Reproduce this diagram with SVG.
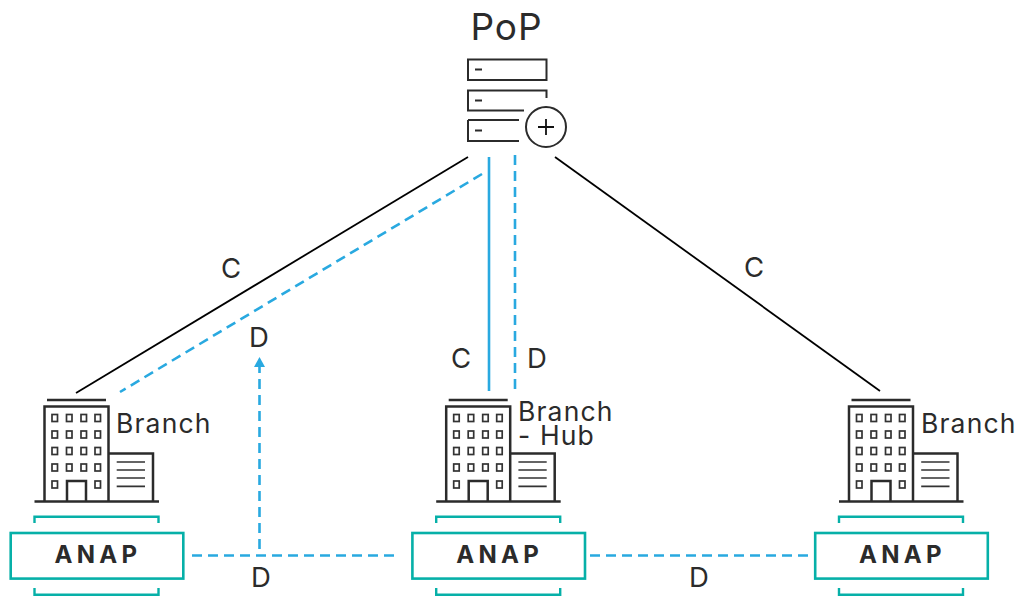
<svg xmlns="http://www.w3.org/2000/svg" width="1019" height="596" viewBox="0 0 1019 596">
<style>
text{font-family:"Inter","Liberation Sans",sans-serif;fill:#2b2b2b}
.lb{font-size:26.500px;letter-spacing:1.150px}
.sm{font-size:27.500px}
.an{font-size:24px;font-weight:700;letter-spacing:4.300px;text-anchor:middle}
.k{fill:none;stroke:#2b2b2b;stroke-width:2}
.k3{fill:none;stroke:#2b2b2b;stroke-width:2.5}
.w{fill:none;stroke:#333;stroke-width:1.7}
.t{fill:#fff;stroke:#06b0a8;stroke-width:2.6}
.tb{fill:none;stroke:#06b0a8;stroke-width:2.4}
.c{fill:none;stroke:#000;stroke-width:1.8}
.bs{fill:none;stroke:#29a9e0;stroke-width:2.6}
.bd{fill:none;stroke:#29a9e0;stroke-width:2.6;stroke-dasharray:10 6}
</style>
<defs>
<g id="bldg">
<path class="k3" d="M47 400H106M44.500 502V406.500H108.500V502M108.500 453.500H153V502M34.500 501.500H159M67 501V481H86V501"/>
<path class="w" d="M116.700 462H145M116.700 470H145M116.700 478H145M116.700 486.300H145"/>
<g class="w">
<rect x="52" y="414.500" width="5.500" height="7"/><rect x="66.500" y="414.500" width="5.500" height="7"/><rect x="81" y="414.500" width="5.500" height="7"/><rect x="95" y="414.500" width="5.500" height="7"/>
<rect x="52" y="431" width="5.500" height="7"/><rect x="66.500" y="431" width="5.500" height="7"/><rect x="81" y="431" width="5.500" height="7"/><rect x="95" y="431" width="5.500" height="7"/>
<rect x="52" y="447.500" width="5.500" height="7"/><rect x="66.500" y="447.500" width="5.500" height="7"/><rect x="81" y="447.500" width="5.500" height="7"/><rect x="95" y="447.500" width="5.500" height="7"/>
<rect x="52" y="464" width="5.500" height="7"/><rect x="66.500" y="464" width="5.500" height="7"/><rect x="81" y="464" width="5.500" height="7"/><rect x="95" y="464" width="5.500" height="7"/>
<rect x="52" y="481" width="5.500" height="7"/><rect x="95" y="481" width="5.500" height="7"/>
</g>
</g>
<g id="anap">
<path class="tb" d="M34.500 523V516.700H158.500V523M34.500 588V594.700H158.500V588"/>
<rect class="t" x="10.700" y="533" width="172.600" height="45.600"/>
<text class="an" x="98" y="562.500">ANAP</text>
</g>
</defs>
<g id="connectors">
<path class="c" d="M468 157L76 393"/>
<path class="bd" d="M482 174L120 392"/>
<path class="bs" d="M489 157V391"/>
<path class="bd" d="M515 155V391"/>
<path class="c" d="M555 157L880 391"/>
<path class="bd" d="M192 555.500H400"/>
<path class="bd" d="M259.500 549V366"/>
<path d="M254 367L259.500 357L265 367Z" fill="#29a9e0"/>
<path class="bd" d="M590 555.500H808"/>
</g>
<g id="pop">
<text x="506.500" y="39.500" font-size="37" letter-spacing="1" text-anchor="middle">PoP</text>
<path class="k" d="M468 59.500H546.500V80H468ZM546.500 98V90.500H468V110.500H524M468 120H519M519 141H468V120"/>
<path class="k" d="M475 69.500H482M475 100.500H482M475 130.500H482"/>
<circle class="k" cx="546" cy="127" r="20"/>
<path d="M546 119V135M538 127H554" stroke="#111" stroke-width="1.800" fill="none"/>
</g>
<g id="branch-left"><use href="#bldg"/><use href="#anap"/><text class="lb" x="116" y="433">Branch</text></g>
<g id="branch-hub"><use href="#bldg" x="401.700"/><use href="#anap" x="401.700"/><text class="lb" x="518" y="421">Branch<tspan x="518" y="445">- Hub</tspan></text></g>
<g id="branch-right"><use href="#bldg" x="804.500"/><use href="#anap" x="804.500"/><text class="lb" x="921" y="433">Branch</text></g>
<g id="labels">
<text class="sm" x="221" y="278">C</text>
<text class="sm" x="744" y="277">C</text>
<text class="sm" x="451" y="368">C</text>
<text class="sm" x="527" y="368">D</text>
<text class="sm" x="249" y="347">D</text>
<text class="sm" x="251" y="587">D</text>
<text class="sm" x="689" y="587">D</text>
</g>
</svg>
